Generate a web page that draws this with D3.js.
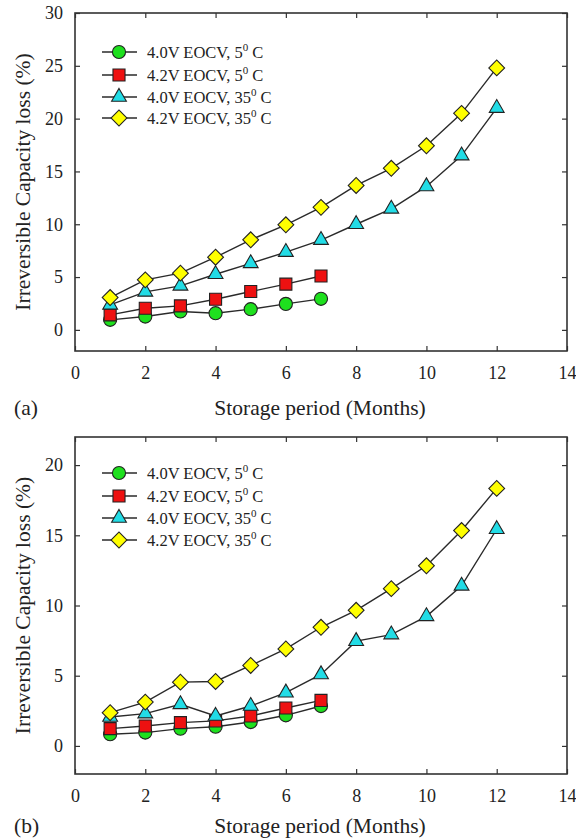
<!DOCTYPE html>
<html><head><meta charset="utf-8">
<script src="https://cdn.jsdelivr.net/npm/d3@7"></script>
<style>body{margin:0;background:#fff}svg{display:block}text{font-family:"Liberation Serif","Times New Roman",serif;fill:#222}</style>
</head><body>
<script>
const months = [1,2,3,4,5,6,7,8,9,10,11,12];
const seriesNames = ["4.0V EOCV, 5|0| C","4.2V EOCV, 5|0| C","4.0V EOCV, 35|0| C","4.2V EOCV, 35|0| C"];
const xTicks = [0,2,4,6,8,10,12,14];
const yTicksA = [0,5,10,15,20,25,30];
const yTicksB = [0,5,10,15,20];
// Panel (a)
const a_40V_5C  = [0.95,1.26,1.74,1.58,1.96,2.46,2.94];
const a_42V_5C  = [1.42,2.05,2.27,2.90,3.63,4.33,5.10];
const a_40V_35C = [2.37,3.60,4.17,5.27,6.30,7.36,8.50,10.0,11.46,13.58,16.5,21.0];
const a_42V_35C = [3.06,4.74,5.37,6.88,8.53,9.95,11.6,13.67,15.3,17.43,20.5,24.8];
// Panel (b)
const b_40V_5C  = [0.83,0.95,1.23,1.37,1.70,2.18,2.84];
const b_42V_5C  = [1.23,1.42,1.66,1.78,2.13,2.70,3.24];
const b_40V_35C = [2.06,2.30,2.96,2.13,2.84,3.79,5.09,7.46,7.93,9.23,11.4,15.43];
const b_42V_35C = [2.37,3.12,4.54,4.59,5.73,6.91,8.45,9.66,11.2,12.83,15.34,18.34];

const fills = ["#1ee01e","#ee1111","#22dce6","#ffff00"];
const shapes = [d3.symbolCircle, d3.symbolSquare, d3.symbolTriangle, d3.symbolSquare];
const sizes = [135, 145, 95, 125];
const rots = [0,0,0,45];

const svg = d3.select("body").append("svg").attr("width",576).attr("height",840);

function panel(cfg){
  const {top,bottom,ydom,yticks,data,label,legendY,titleY} = cfg;
  const left=75,right=567;
  const x = d3.scaleLinear().domain([0,14]).range([left,right]);
  const y = d3.scaleLinear().domain(ydom).range([bottom,top]);
  const g = svg.append("g");
  const styleAx = s=>{s.select(".domain").remove();s.selectAll("text").style("font-size","18px").attr("fill","#222");s.selectAll("line").attr("stroke","#333").attr("stroke-width",1.2);};
  g.append("g").attr("transform",`translate(0,${bottom})`)
    .call(d3.axisBottom(x).tickValues(xTicks).tickSize(-5).tickPadding(15).tickFormat(d3.format("d"))).call(styleAx);
  g.append("g").attr("transform",`translate(0,${top})`)
    .call(d3.axisTop(x).tickValues(xTicks).tickSize(-5).tickFormat("")).call(styleAx);
  g.append("g").attr("transform",`translate(${left},0)`)
    .call(d3.axisLeft(y).tickValues(yticks).tickSize(-5).tickPadding(12).tickFormat(d3.format("d"))).call(styleAx);
  g.append("g").attr("transform",`translate(${right},0)`)
    .call(d3.axisRight(y).tickValues(yticks).tickSize(-5).tickFormat("")).call(styleAx);
  g.append("rect").attr("x",left).attr("y",top).attr("width",right-left).attr("height",bottom-top)
    .attr("fill","none").attr("stroke","#333").attr("stroke-width",1.6);
  const line = d3.line().x(d=>x(d[0])).y(d=>y(d[1]));
  data.forEach((vals,i)=>{
    const pts = vals.map((v,j)=>[months[j],v]);
    g.append("path").datum(pts).attr("d",line).attr("fill","none").attr("stroke","#2a2a2a").attr("stroke-width",1.4);
    g.selectAll(null).data(pts).join("path")
      .attr("d",d3.symbol().type(shapes[i]).size(sizes[i]))
      .attr("transform",d=>`translate(${x(d[0])},${y(d[1])}) rotate(${rots[i]})`)
      .attr("fill",fills[i]).attr("stroke","#222").attr("stroke-width",1.1);
  });
  // legend
  seriesNames.forEach((nm,i)=>{
    const ly = legendY[i];
    g.append("line").attr("x1",102).attr("x2",137).attr("y1",ly).attr("y2",ly).attr("stroke","#2a2a2a").attr("stroke-width",1.4);
    g.append("path").attr("d",d3.symbol().type(shapes[i]).size(sizes[i])).attr("transform",`translate(119,${ly}) rotate(${rots[i]})`)
      .attr("fill",fills[i]).attr("stroke","#222").attr("stroke-width",1.1);
    const parts = nm.split("|");
    const t = g.append("text").attr("x",147).attr("y",ly+6).style("font-size","16.5px");
    t.append("tspan").text(parts[0]);
    t.append("tspan").attr("dy",-7).style("font-size","11px").text(parts[1]);
    t.append("tspan").attr("dy",7).text(parts[2]);
  });
  // axis titles
  g.append("text").attr("transform",`translate(22,${(top+bottom)/2}) rotate(-90)`).attr("text-anchor","middle")
    .attr("dy","0.35em").style("font-size","21.5px").text("Irreversible Capacity loss (%)");
  g.append("text").attr("x",320).attr("y",titleY).attr("dy","0.35em").attr("text-anchor","middle")
    .style("font-size","21.5px").text("Storage period (Months)");
  g.append("text").attr("x",14).attr("y",titleY).attr("dy","0.35em").style("font-size","21.5px").text(label);
}

panel({top:13,bottom:351,ydom:[-2,30],yticks:yTicksA,data:[a_40V_5C,a_42V_5C,a_40V_35C,a_42V_35C],label:"(a)",legendY:[52,75,97,118],titleY:407});
panel({top:437,bottom:774,ydom:[-2,22],yticks:yTicksB,data:[b_40V_5C,b_42V_5C,b_40V_35C,b_42V_35C],label:"(b)",legendY:[473,496,518,540],titleY:825});
</script>
</body></html>
